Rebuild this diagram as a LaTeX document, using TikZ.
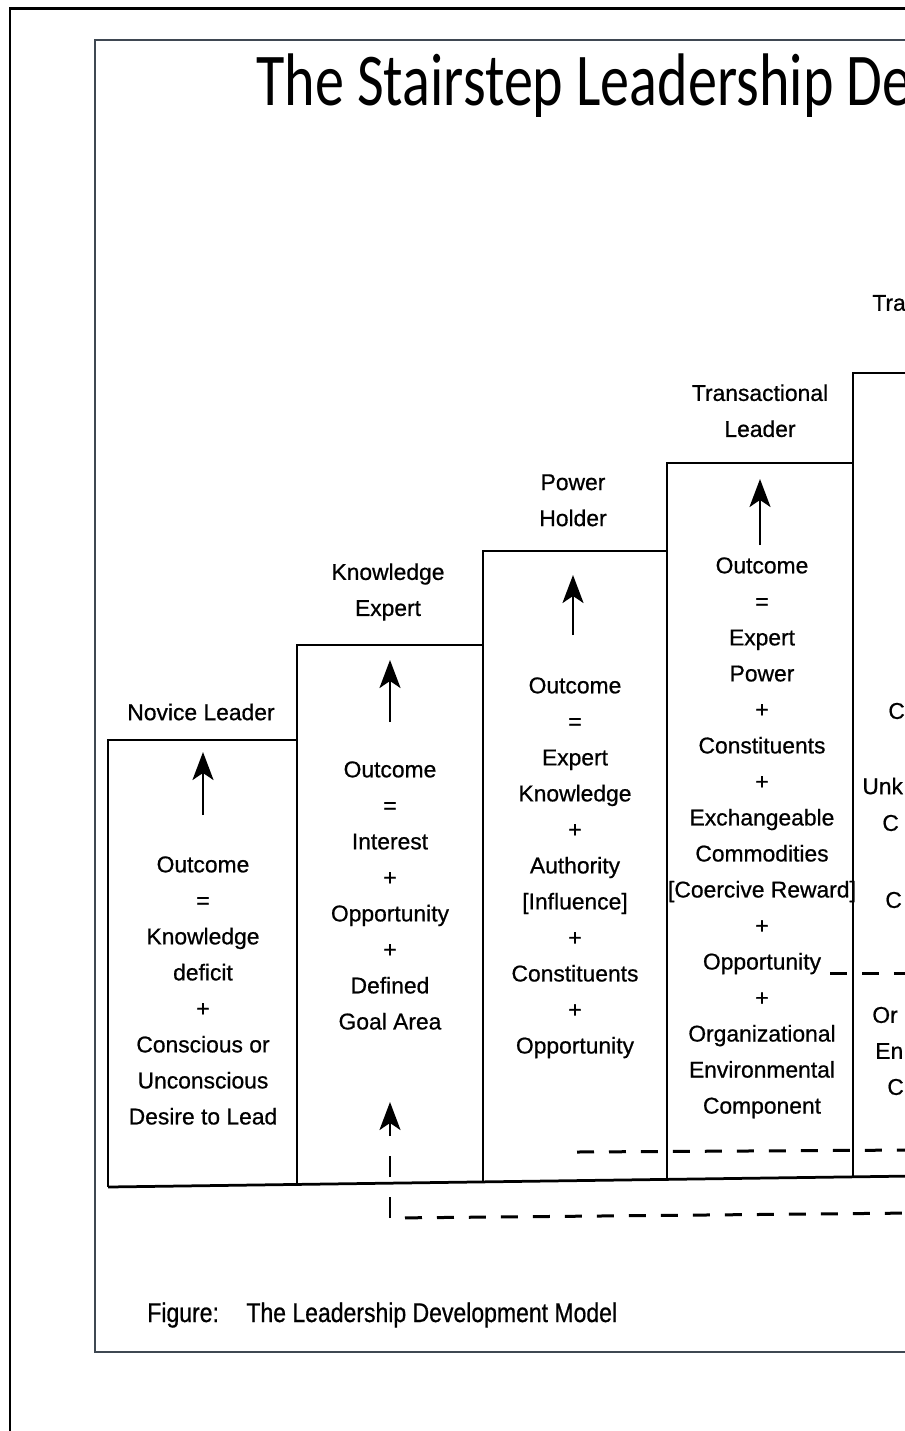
\documentclass[tikz,border=0pt]{standalone}
\usepackage{fontspec}
\usetikzlibrary{arrows.meta}
\newfontfamily\stepfont[FakeBold=0.7]{Liberation Sans}
\newfontfamily\titlefont[FakeStretch=0.78]{Carlito}
\newfontfamily\capfont[FakeStretch=0.85, FakeBold=0.7]{Liberation Sans}
\definecolor{framegray}{HTML}{3F4852}

\begin{document}
\begin{tikzpicture}[x=0.02cm, y=-0.02cm]
        \tikzset{
          stair/.style = {line width=0.055cm, line join=miter},
          dashline/.style = {line width=0.06cm, dash pattern=on 0.34cm off 0.3cm},
          uparrow/.style = {line width=0.05cm, -{Stealth[length=0.56cm, width=0.42cm, inset=0.14cm]}},
          steptext/.style = {font=\stepfont\fontsize{13}{20.5}\selectfont, align=center, inner sep=0pt, anchor=north},
          steplabel/.style = {font=\stepfont\fontsize{13}{20.5}\selectfont, align=center, inner sep=0pt}
        }
        \useasboundingbox (0,0) rectangle (905,1431);
        \fill[white] (0,0) rectangle (905,1431);
        \clip (0,0) rectangle (905,1431);
        % frames
        \draw[line width=0.06cm] (10,1440) -- (10,8) -- (920,8);
        \draw[framegray, line width=0.032cm] (920,40) -- (95,40) -- (95,1352) -- (920,1352);
        \node[font=\titlefont\fontsize{42.4}{50}\selectfont, anchor=base west, inner sep=0pt] (Title) at (256,105) {The Stairstep Leadership De};
        % stairs
        \draw[stair] (108,1187) -- (108,740) -- (297,740) -- (297,645) -- (483,645) -- (483,551)
                     -- (667,551) -- (667,463) -- (853,463) -- (853,373) -- (915,373);
        \draw[stair] (108,1187) -- (915,1176);
        \draw[stair] (297,740) -- (297,1186) (483,645) -- (483,1183)
                     (667,551) -- (667,1180) (853,463) -- (853,1177);
        % step labels
        \node[steplabel] (Novice) at (201,712) {Novice Leader};
        \node[steplabel, anchor=north] (Knowledge) at (388,563) {Knowledge\\Expert};
        \node[steplabel, anchor=north] (Power) at (573,474) {Power\\Holder};
        \node[steplabel, anchor=north] (Transactional) at (760,384) {Transactional\\Leader};
        \node[steplabel, anchor=west] (Transform) at (872,303) {Tra};
        % step contents
        \node[steptext] (NoviceEq) at (203,856) {Outcome\\=\\Knowledge\\deficit\\+\\Conscious or\\Unconscious\\Desire to Lead};
        \node[steptext] (KnowledgeEq) at (390,761) {Outcome\\=\\Interest\\+\\Opportunity\\+\\Defined\\Goal Area};
        \node[steptext] (PowerEq) at (575,677) {Outcome\\=\\Expert\\Knowledge\\+\\Authority\\{[Influence]}\\+\\Constituents\\+\\Opportunity};
        \node[steptext] (TransactionalEq) at (762,557) {Outcome\\=\\Expert\\Power\\+\\Constituents\\+\\Exchangeable\\Commodities\\{[Coercive Reward]}\\+\\Opportunity\\+\\Organizational\\Environmental\\Component};
        \node[steplabel, anchor=west] (TransformA) at (888,711) {C};
        \node[steplabel, anchor=west] (TransformB) at (862,786) {Unk};
        \node[steplabel, anchor=west] (TransformC) at (882,823) {C};
        \node[steplabel, anchor=west] (TransformD) at (885,900) {C};
        \node[steplabel, anchor=west] (TransformE) at (872,1015) {Or};
        \node[steplabel, anchor=west] (TransformF) at (875,1051) {En};
        \node[steplabel, anchor=west] (TransformG) at (887,1087) {C};
        % arrows
        \coordinate (NoviceTail) at (203,815);
        \coordinate (NoviceTip) at (203,752);
        \coordinate (KnowledgeTail) at (390,722);
        \coordinate (KnowledgeTip) at (390,660);
        \coordinate (PowerTail) at (573,635);
        \coordinate (PowerTip) at (573,575);
        \coordinate (TransactionalTail) at (760,545);
        \coordinate (TransactionalTip) at (760,479);
        \draw[uparrow] (NoviceTail) -- (NoviceTip);
        \draw[uparrow] (KnowledgeTail) -- (KnowledgeTip);
        \draw[uparrow] (PowerTail) -- (PowerTip);
        \draw[uparrow] (TransactionalTail) -- (TransactionalTip);
        % dashed lines
        \coordinate (GoalFoot) at (390,1218);
        \coordinate (GoalTip) at (390,1102);
        \coordinate (GoalEnd) at (915,1213);
        \coordinate (ShiftStart) at (577,1152);
        \coordinate (ShiftEnd) at (915,1150);
        \coordinate (OppStart) at (830,973);
        \coordinate (OppEnd) at (915,973);
        \draw[uparrow, dash pattern=on 0.42cm off 0.4cm] (GoalFoot) -- (GoalTip);
        \draw[dashline, dash phase=0.34cm] (GoalFoot) -- (GoalEnd);
        \draw[dashline] (ShiftStart) -- (ShiftEnd);
        \draw[dashline] (OppStart) -- (OppEnd);
        % caption
        \node[font=\capfont\fontsize{15.4}{18}\selectfont, anchor=base west, inner sep=0pt] (Caption) at (147,1322) {Figure:\hspace{0.55cm}The Leadership Development Model};
    \end{tikzpicture}
\end{document}
